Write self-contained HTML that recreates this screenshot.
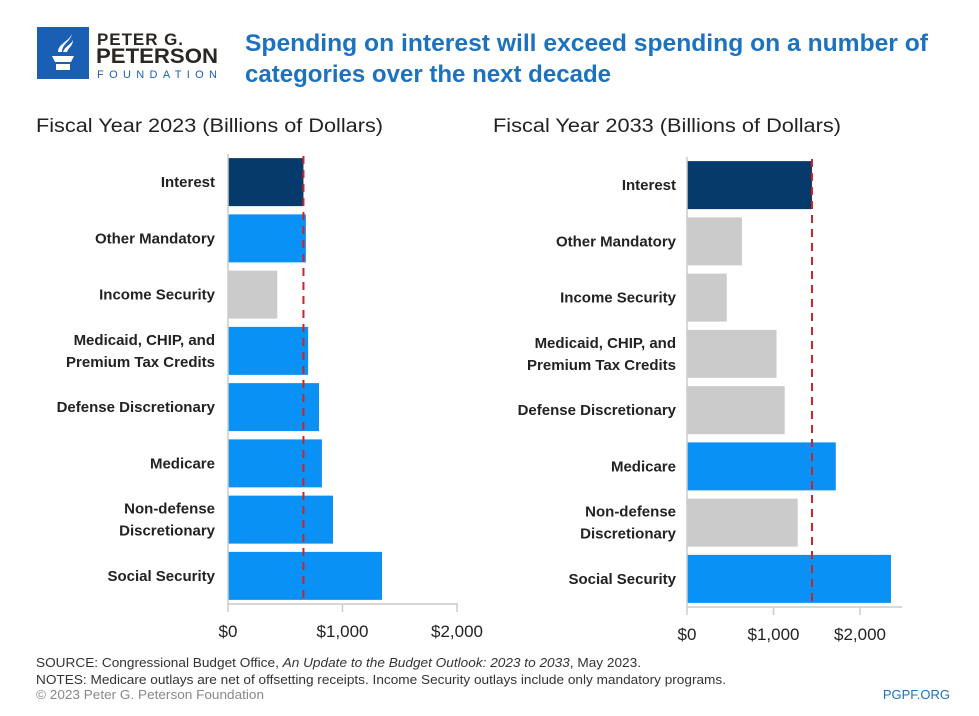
<!DOCTYPE html>
<html><head><meta charset="utf-8"><style>
body{margin:0;background:#fff;}
svg{display:block;font-family:"Liberation Sans",sans-serif;}
</style></head><body>
<svg width="979" height="716" viewBox="0 0 979 716">
<g>
 <rect x="37" y="27" width="52" height="52" fill="#1a5fb4"/>
 <path d="M52 56h22l-3 6h-16z M56 64h14v6h-14z M58 52c0-8 10-10 14-18c-2 8-10 10-10 18z M63 52c2-6 8-7 10-12c0 6-5 8-6 12z" fill="#fff"/>
 <text x="97" y="45" font-size="17" font-weight="bold" fill="#2b2622" textLength="86">PETER G.</text>
 <text x="96" y="63" font-size="21" font-weight="bold" fill="#2b2622" textLength="122" lengthAdjust="spacingAndGlyphs">PETERSON</text>
 <text x="97" y="78" font-size="11" fill="#1a5fb4" textLength="120">FOUNDATION</text>
</g>
<text x="245" y="51" font-size="24" font-weight="bold" fill="#1c72bf" textLength="683" lengthAdjust="spacingAndGlyphs">Spending on interest will exceed spending on a number of</text>
<text x="245" y="82" font-size="24" font-weight="bold" fill="#1c72bf" textLength="366" lengthAdjust="spacingAndGlyphs">categories over the next decade</text>
<text x="36" y="132" font-size="19" fill="#222" textLength="347" lengthAdjust="spacingAndGlyphs">Fiscal Year 2023 (Billions of Dollars)</text>
<text x="493" y="132" font-size="19" fill="#222" textLength="348" lengthAdjust="spacingAndGlyphs">Fiscal Year 2033 (Billions of Dollars)</text>
<g id="left"></g>
<g id="right"></g>
<text x="36" y="667" font-size="12.5" fill="#333" textLength="605" lengthAdjust="spacingAndGlyphs">SOURCE: Congressional Budget Office, <tspan font-style="italic">An Update to the Budget Outlook: 2023 to 2033</tspan>, May 2023.</text>
<text x="36" y="684" font-size="12.5" fill="#333" textLength="690" lengthAdjust="spacingAndGlyphs">NOTES: Medicare outlays are net of offsetting receipts. Income Security outlays include only mandatory programs.</text>
<text x="36" y="699" font-size="12.5" fill="#888" textLength="228" lengthAdjust="spacingAndGlyphs">© 2023 Peter G. Peterson Foundation</text>
<text x="950" y="699" font-size="13" fill="#1c72bf" text-anchor="end">PGPF.ORG</text>
</svg>
<script>
const categories = ["Interest","Other Mandatory","Income Security","Medicaid, CHIP, and|Premium Tax Credits","Defense Discretionary","Medicare","Non-defense|Discretionary","Social Security"];
const values2023 = [659, 680, 430, 700, 795, 820, 917, 1345];
const values2033 = [1445, 635, 460, 1035, 1130, 1720, 1280, 2358];
const colors2023 = ["navy","blue","gray","blue","blue","blue","blue","blue"];
const colors2033 = ["navy","gray","gray","gray","gray","blue","gray","blue"];
const tickValues = [0, 1000, 2000];
const tickLabels = ["$0","$1,000","$2,000"];
const NS="http://www.w3.org/2000/svg";
const pal={navy:"#053a6b",blue:"#0a91f5",gray:"#cbcbcb"};
function mk(tag,attrs,parent){const e=document.createElementNS(NS,tag);for(const k in attrs)e.setAttribute(k,attrs[k]);parent.appendChild(e);return e;}
function draw(g,vals,cols,x0,pxPer,top,bottom,labelX,axisEnd,prefix){
 const band=(bottom-top)/categories.length;
 const xs=v=>x0+v*pxPer/1000;
 const bh=48;
 categories.forEach((c,i)=>{
  const cy=top+band*(i+0.5);
  const r=mk('rect',{x:x0,y:cy-bh/2,width:xs(vals[i])-x0,height:bh,fill:pal[cols[i]]},g);
  
  
  const lines=c.split('|');
  lines.forEach((ln,j)=>{
   const t=mk('text',{x:labelX,y:cy+5+(j-(lines.length-1)/2)*22,'font-size':15,'font-weight':'bold',fill:'#222','text-anchor':'end'},g);
   t.textContent=ln;
   
   
  });
 });
 mk('line',{x1:x0,y1:top,x2:x0,y2:bottom,stroke:'#ccc','stroke-width':1.5},g);
 mk('line',{x1:x0,y1:bottom,x2:axisEnd,y2:bottom,stroke:'#ccc','stroke-width':1.5},g);
 tickValues.forEach((v,i)=>{
  mk('line',{x1:xs(v),y1:bottom,x2:xs(v),y2:bottom+8,stroke:'#ccc','stroke-width':1.5},g);
  const t=mk('text',{x:xs(v),y:bottom+33,'font-size':17,fill:'#222','text-anchor':'middle'},g);
  t.textContent=tickLabels[i];
  
  
 });
 const d=mk('line',{x1:xs(vals[0]),y1:top+2,x2:xs(vals[0]),y2:bottom,stroke:'#c62828','stroke-width':2,'stroke-dasharray':'8,6'},g);
 
 
}
draw(document.getElementById('left'),values2023,colors2023,228,114.5,154,604,215,458,'fy2023');
draw(document.getElementById('right'),values2033,colors2033,687,86.5,157,607,676,902,'fy2033');
</script>
</body></html>
